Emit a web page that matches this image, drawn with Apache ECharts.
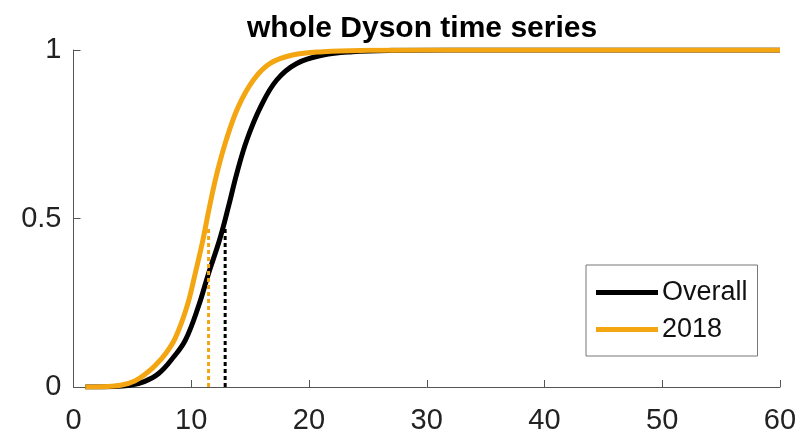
<!DOCTYPE html>
<html>
<head>
<meta charset="utf-8">
<script src="https://cdn.jsdelivr.net/npm/echarts@6/dist/echarts.min.js"></script>
<style>
  html, body { margin: 0; padding: 0; background: #fff; }
  #chart { width: 808px; height: 438px; }
</style>
</head>
<body>
<div id="chart"></div>
<script>
// Empirical CDFs of the Dyson time series
const titleText = 'whole Dyson time series';
const xTicks = [0, 10, 20, 30, 40, 50, 60];
const yTicks = [0, 0.5, 1];

const overallX = [1, 3, 4.8, 6, 7.23, 8.5, 9.5, 10.6, 11.47, 12.4, 13.16, 13.87, 14.72, 15.9, 17.26, 18.96, 21.2, 23.7, 27, 32, 60];
const overallY = [0, 0.001, 0.005, 0.016, 0.04, 0.089, 0.139, 0.238, 0.337, 0.436, 0.535, 0.634, 0.733, 0.832, 0.911, 0.96, 0.985, 0.995, 0.999, 1, 1];

const y2018X = [1, 2.5, 4, 5.2, 6.24, 7.0, 7.8, 8.64, 9.63, 10.34, 10.99, 11.55, 12.18, 12.97, 14.0, 15.28, 16.7, 18.6, 21.2, 25, 30, 60];
const y2018Y = [0, 0.001, 0.005, 0.018, 0.042, 0.066, 0.098, 0.145, 0.238, 0.337, 0.436, 0.535, 0.634, 0.733, 0.832, 0.911, 0.96, 0.985, 0.995, 0.999, 1, 1];

// Median markers: x position and height of the dotted drop line
const overallMedian = [12.88, 0.47];
const median2018 = [11.47, 0.47];

const BLACK = '#000000';
const ORANGE = '#F3A512';
const FONT = "'Liberation Sans', Arial, Helvetica, sans-serif";

const pairs = (xs, ys) => xs.map((x, i) => [x, ys[i]]);
const dropLine = (m) => [[m[0], 0], [m[0], m[1]]];

const chart = echarts.init(document.getElementById('chart'), null, { renderer: 'canvas' });

const axisColor = '#555555';

chart.setOption({
  animation: false,
  backgroundColor: '#ffffff',
  title: {
    text: titleText,
    left: 242,
    top: 9,
    textStyle: { fontFamily: FONT, fontWeight: 'bold', fontSize: 30, color: '#000' }
  },
  grid: { left: 73.5, right: 28, top: 50, bottom: 51, containLabel: false },
  legend: {
    data: ['Overall', '2018'],
    orient: 'vertical',
    left: 586,
    top: 265,
    padding: [13, 10, 12, 10],
    itemGap: 8,
    itemWidth: 62,
    itemHeight: 5,
    icon: 'rect',
    borderColor: '#777777',
    borderWidth: 1,
    backgroundColor: '#ffffff',
    textStyle: { fontFamily: FONT, fontSize: 27, color: '#111', lineHeight: 29, padding: [0, 0, 0, -1] }
  },
  xAxis: {
    type: 'value',
    min: xTicks[0],
    max: xTicks[xTicks.length - 1],
    interval: 10,
    axisLine: { show: true, lineStyle: { color: axisColor, width: 1 } },
    axisTick: { show: true, inside: true, length: 7, lineStyle: { color: axisColor } },
    axisLabel: { fontFamily: FONT, fontSize: 29, color: '#222', margin: 19 },
    splitLine: { show: false }
  },
  yAxis: {
    type: 'value',
    min: yTicks[0],
    max: yTicks[yTicks.length - 1],
    interval: 0.5,
    axisLine: { show: true, lineStyle: { color: axisColor, width: 1 } },
    axisTick: { show: true, inside: true, length: 7, lineStyle: { color: axisColor } },
    axisLabel: { fontFamily: FONT, fontSize: 29, color: '#222', margin: 12 },
    splitLine: { show: false }
  },
  series: [
    {
      name: 'Overall',
      type: 'line',
      data: pairs(overallX, overallY),
      showSymbol: false,
      smooth: 0.4,
      itemStyle: { color: BLACK },
      lineStyle: { color: BLACK, width: 5 },
      z: 2
    },
    {
      name: '2018',
      type: 'line',
      data: pairs(y2018X, y2018Y),
      showSymbol: false,
      smooth: 0.4,
      itemStyle: { color: ORANGE },
      lineStyle: { color: ORANGE, width: 5 },
      z: 3
    },
    {
      name: 'Overall median',
      type: 'line',
      data: dropLine(overallMedian),
      showSymbol: false,
      lineStyle: { color: BLACK, width: 3, type: [4, 3] },
      z: 4
    },
    {
      name: '2018 median',
      type: 'line',
      data: dropLine(median2018),
      showSymbol: false,
      lineStyle: { color: ORANGE, width: 3, type: [4, 3] },
      z: 4
    }
  ]
});
</script>
</body>
</html>
